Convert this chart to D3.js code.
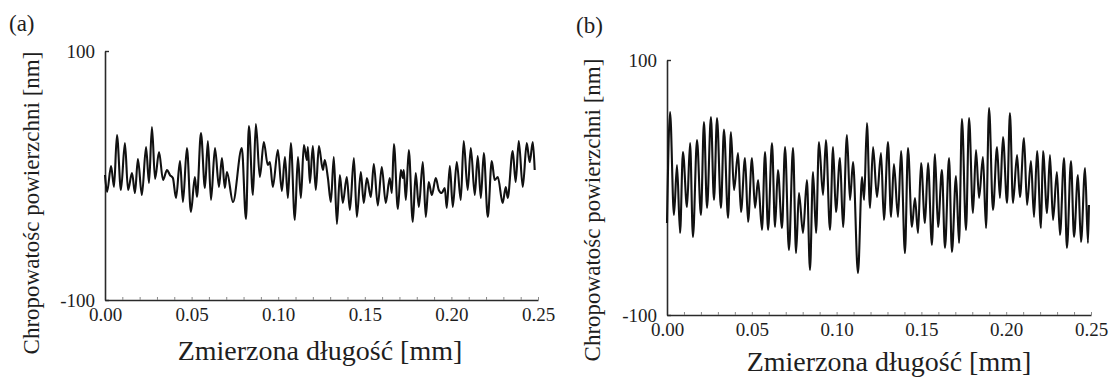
<!DOCTYPE html>
<html>
<head>
<meta charset="utf-8">
<script src="https://cdn.jsdelivr.net/npm/d3@7"></script>
<style>
  body { margin: 0; background: #fff; }
  svg { display: block; }
  svg text { font-family: 'Liberation Serif', 'Times New Roman', Tinos, 'DejaVu Serif', 'Noto Serif', Times, serif; fill: #1e1e1e; }
</style>
</head>
<body>
<svg id="chart" width="1110" height="378"></svg>
<script>
// surface profile (a): [length mm, height nm], read at the peaks and troughs
const profileA = [
  [0.0000, 0.4], [0.0012, -13.2], [0.0035, 7.6], [0.0052, -9.2], [0.0069, 32.5], [0.0092, -11.6],
  [0.0115, 26.1], [0.0133, -11.6], [0.0156, 2.0], [0.0173, -14.1], [0.0190, 13.2], [0.0213, -15.7],
  [0.0237, 22.9], [0.0254, -6.0], [0.0271, 38.9], [0.0289, -2.8], [0.0312, 18.9], [0.0335, -3.6],
  [0.0358, 4.4], [0.0375, 0.4], [0.0392, -2.0], [0.0410, -18.1], [0.0433, 11.6], [0.0450, -21.3],
  [0.0473, 22.1], [0.0496, -29.3], [0.0519, -1.2], [0.0531, -17.3], [0.0554, 34.1], [0.0577, -10.0],
  [0.0594, 27.7], [0.0612, -19.7], [0.0635, 22.1], [0.0658, -9.2], [0.0675, 14.1], [0.0692, -10.0],
  [0.0704, 2.8], [0.0739, -21.3], [0.0790, 22.1], [0.0814, -34.9], [0.0831, 39.7], [0.0854, -15.7],
  [0.0871, 41.4], [0.0894, -1.2], [0.0917, 26.9], [0.0940, 8.4], [0.0952, 10.8], [0.0969, -9.2],
  [0.0998, 20.5], [0.1021, -12.4], [0.1039, 14.9], [0.1056, -18.1], [0.1073, 26.1], [0.1096, -35.7],
  [0.1114, 14.9], [0.1131, -18.1], [0.1148, 24.5], [0.1166, 12.4], [0.1171, 22.9], [0.1183, -6.0],
  [0.1200, 23.7], [0.1217, -11.6], [0.1235, 23.7], [0.1258, 4.4], [0.1269, 12.4], [0.1287, -2.0],
  [0.1304, -21.3], [0.1321, 14.9], [0.1339, -38.9], [0.1356, 0.4], [0.1373, -22.1], [0.1396, -1.2],
  [0.1414, -27.7], [0.1437, 14.1], [0.1454, -33.3], [0.1477, 2.8], [0.1494, -22.1], [0.1512, -2.0],
  [0.1535, -17.3], [0.1552, 9.2], [0.1575, -24.1], [0.1598, 6.8], [0.1621, -22.1], [0.1644, -2.0],
  [0.1656, -14.1], [0.1668, 25.3], [0.1691, -26.9], [0.1708, 4.4], [0.1720, -2.0], [0.1725, 4.4],
  [0.1737, -19.7], [0.1754, 20.5], [0.1777, -37.3], [0.1794, 2.0], [0.1812, -25.3], [0.1835, 10.8],
  [0.1852, -33.3], [0.1869, -5.2], [0.1887, -15.7], [0.1910, -2.0], [0.1927, -11.6], [0.1944, -14.1],
  [0.1962, -10.0], [0.1973, -26.1], [0.1991, 7.6], [0.2008, -25.3], [0.2031, 10.8], [0.2054, -19.7],
  [0.2071, 27.7], [0.2094, -11.6], [0.2112, 22.1], [0.2135, -15.7], [0.2152, 15.7], [0.2170, -18.1],
  [0.2187, 18.1], [0.2210, -33.3], [0.2233, 11.6], [0.2250, -3.6], [0.2268, -1.2], [0.2296, -22.1],
  [0.2314, -9.2], [0.2325, -18.1], [0.2354, 19.7], [0.2371, -5.2], [0.2389, 27.7], [0.2412, -9.2],
  [0.2435, 26.1], [0.2452, 10.8], [0.2470, 26.9], [0.2481, 4.4]
];

// surface profile (b)
const profileB = [
  [0.0000, -27.8], [0.0018, 59.2], [0.0041, -21.6], [0.0059, 17.6], [0.0077, -35.7], [0.0094, 27.8],
  [0.0118, -15.3], [0.0136, 34.9], [0.0153, -38.8], [0.0177, 37.2], [0.0200, -21.6], [0.0218, 51.4],
  [0.0236, -16.1], [0.0259, 55.3], [0.0277, -9.8], [0.0295, 54.5], [0.0318, -16.1], [0.0336, 45.5],
  [0.0360, -23.9], [0.0377, 43.5], [0.0395, -2.0], [0.0419, 27.0], [0.0436, -19.2], [0.0460, 23.1],
  [0.0478, -27.0], [0.0501, 23.1], [0.0519, -16.1], [0.0537, 5.9], [0.0560, -33.3], [0.0578, 27.8],
  [0.0596, -33.3], [0.0619, 34.9], [0.0637, -31.0], [0.0654, 13.7], [0.0678, -31.8], [0.0696, 31.8],
  [0.0719, -49.0], [0.0743, 31.0], [0.0761, -51.4], [0.0778, -4.3], [0.0802, -35.7], [0.0825, 5.9],
  [0.0843, -64.7], [0.0861, 12.2], [0.0879, -35.7], [0.0896, 35.7], [0.0920, -5.9], [0.0937, 37.2],
  [0.0961, -33.3], [0.0979, 31.8], [0.0996, -19.2], [0.1020, 23.1], [0.1038, -31.0], [0.1061, 41.2],
  [0.1079, -9.8], [0.1097, 20.0], [0.1126, -67.0], [0.1150, 8.2], [0.1162, -9.8], [0.1179, 50.6],
  [0.1197, -16.1], [0.1215, 31.8], [0.1238, -7.5], [0.1262, 27.0], [0.1279, -25.5], [0.1303, 35.7],
  [0.1321, -23.1], [0.1338, 18.4], [0.1362, -23.1], [0.1380, 28.6], [0.1403, -51.4], [0.1421, 31.0],
  [0.1444, -31.0], [0.1462, -8.2], [0.1480, -35.7], [0.1498, 19.2], [0.1521, -27.8], [0.1539, 19.2],
  [0.1562, -45.1], [0.1580, 26.3], [0.1598, -31.0], [0.1621, 13.7], [0.1639, -47.4], [0.1663, 23.1],
  [0.1680, -50.6], [0.1704, 9.0], [0.1722, -43.5], [0.1739, 53.7], [0.1763, -33.3], [0.1781, 54.5],
  [0.1804, -20.0], [0.1822, 29.4], [0.1840, -8.2], [0.1863, 23.9], [0.1881, -31.8], [0.1899, 62.3],
  [0.1922, -17.6], [0.1946, 31.8], [0.1963, -8.2], [0.1981, 39.6], [0.2005, -12.2], [0.2022, 58.4],
  [0.2040, -12.2], [0.2064, 25.5], [0.2081, -7.5], [0.2105, 38.8], [0.2123, -13.7], [0.2146, 20.8],
  [0.2164, -23.1], [0.2182, 28.6], [0.2205, -31.8], [0.2217, 28.6], [0.2241, -20.0], [0.2258, 25.5],
  [0.2276, -25.5], [0.2299, 12.2], [0.2317, -37.2], [0.2341, 23.1], [0.2358, -47.4], [0.2382, 20.8],
  [0.2400, -38.8], [0.2423, 9.8], [0.2441, -42.7], [0.2465, 15.3], [0.2482, -43.5], [0.2488, -13.7]
];

const xTicks = [0, 0.05, 0.10, 0.15, 0.20, 0.25];
const xMinorTicks = d3.range(0, 26).map(i => i / 100);
const yTicks = [-100, 100];
const xTitle = "Zmierzona długość [mm]";
const yTitle = "Chropowatośc powierzchni [nm]";

const svg = d3.select('#chart');

// panel boxes (pixels) and where the titles sit
const panels = [
  { tag: '(a)', data: profileA, left: 105, right: 538, top: 51, bottom: 300,
    tagX: 9, tagY: 31, yTitleX: 31, yTitleY: 203, xTitleX: 320, xTitleY: 360 },
  { tag: '(b)', data: profileB, left: 667, right: 1091, top: 60, bottom: 315,
    tagX: 576, tagY: 33, yTitleX: 592, yTitleY: 210, xTitleX: 889, xTitleY: 371 }
];

panels.forEach(p => {
  const x = d3.scaleLinear().domain([0, 0.25]).range([p.left, p.right]);
  const y = d3.scaleLinear().domain([-100, 100]).range([p.bottom, p.top]);
  const g = svg.append('g');

  // small inward ticks along the x axis
  g.append('g')
    .attr('transform', `translate(0,${p.bottom})`)
    .call(d3.axisBottom(x).tickValues(xMinorTicks).tickSizeInner(-3).tickSizeOuter(0).tickFormat(''))
    .call(a => a.select('.domain').attr('stroke', '#2a2a2a').attr('stroke-width', 1.6))
    .call(a => a.selectAll('.tick line').attr('stroke', '#888').attr('stroke-width', 1));

  // x tick labels
  g.append('g')
    .attr('transform', `translate(0,${p.bottom})`)
    .call(d3.axisBottom(x).tickValues(xTicks).tickSize(0).tickPadding(8).tickFormat(d3.format('.2f')))
    .call(a => a.attr('font-family', null))
    .call(a => a.select('.domain').remove())
    .call(a => a.selectAll('text').attr('font-size', 19));

  // y axis with only the end values (plain hyphen, as in the original)
  g.append('g')
    .attr('transform', `translate(${p.left},0)`)
    .call(d3.axisLeft(y).tickValues(yTicks).tickSizeInner(-4).tickSizeOuter(0).tickPadding(10).tickFormat(d => String(d)))
    .call(a => a.attr('font-family', null))
    .call(a => a.select('.domain').attr('stroke', '#2a2a2a').attr('stroke-width', 1.6))
    .call(a => a.selectAll('.tick line').attr('stroke', '#2a2a2a').attr('stroke-width', 1.4))
    .call(a => a.selectAll('text').attr('font-size', 19));

  // profile line
  const line = d3.line()
    .x(d => x(d[0]))
    .y(d => y(d[1]))
    .curve(d3.curveMonotoneX);

  g.append('path')
    .datum(p.data)
    .attr('fill', 'none')
    .attr('stroke', '#111')
    .attr('stroke-width', 2.1)
    .attr('stroke-linejoin', 'round')
    .attr('d', line);

  // titles
  g.append('text')
    .attr('x', p.tagX).attr('y', p.tagY)
    .attr('font-size', 23)
    .text(p.tag);

  g.append('text')
    .attr('transform', `translate(${p.yTitleX},${p.yTitleY}) rotate(-90)`)
    .attr('text-anchor', 'middle')
    .attr('dy', '0.35em')
    .attr('font-size', 23)
    .text(yTitle);

  g.append('text')
    .attr('x', p.xTitleX).attr('y', p.xTitleY)
    .attr('text-anchor', 'middle')
    .attr('font-size', 28)
    .text(xTitle);
});
</script>
</body>
</html>
